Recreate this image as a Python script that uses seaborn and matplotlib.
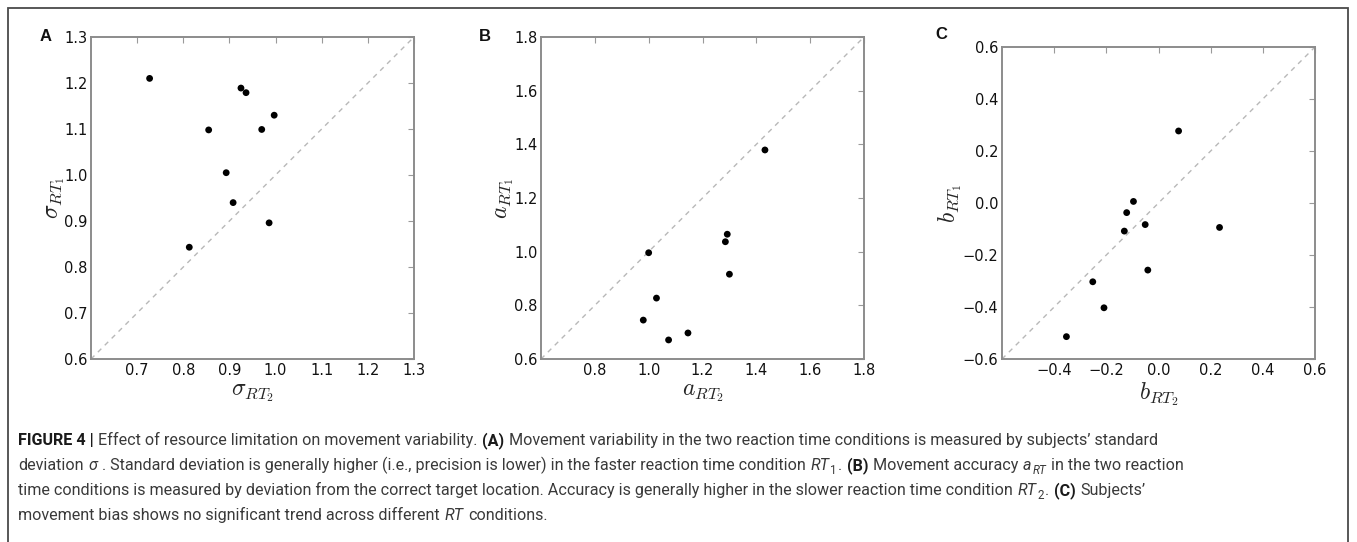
import os
import matplotlib
matplotlib.use("Agg")
import matplotlib.pyplot as plt
import seaborn as sns
import pandas as pd
from matplotlib import font_manager
from matplotlib.font_manager import FontProperties
from matplotlib.patches import Rectangle

# ---------------- data ----------------
sigma_rt2 = [0.727, 0.925, 0.936, 0.997, 0.855, 0.970, 0.893, 0.908, 0.986, 0.813]
sigma_rt1 = [1.210, 1.189, 1.179, 1.130, 1.098, 1.099, 1.005, 0.940, 0.896, 0.843]

a_rt2 = [1.432, 1.292, 1.285, 1.300, 1.000, 1.029, 0.980, 1.146, 1.074]
a_rt1 = [1.379, 1.065, 1.037, 0.916, 0.996, 0.827, 0.745, 0.697, 0.671]

b_rt2 = [0.077, -0.096, -0.122, -0.051, -0.131, 0.234, -0.041, -0.252, -0.209, -0.353]
b_rt1 = [0.277, 0.006, -0.037, -0.083, -0.108, -0.094, -0.258, -0.303, -0.403, -0.514]

lim_a = [0.6, 1.3]
xticks_a = [0.7, 0.8, 0.9, 1.0, 1.1, 1.2, 1.3]
yticks_a = [0.6, 0.7, 0.8, 0.9, 1.0, 1.1, 1.2, 1.3]
lim_b = [0.6, 1.8]
xticks_b = [0.8, 1.0, 1.2, 1.4, 1.6, 1.8]
yticks_b = [0.6, 0.8, 1.0, 1.2, 1.4, 1.6, 1.8]
lim_c = [-0.6, 0.6]
xticks_c = [-0.4, -0.2, 0.0, 0.2, 0.4, 0.6]
yticks_c = [-0.6, -0.4, -0.2, 0.0, 0.2, 0.4, 0.6]

labels = {
    "A": (r"$\sigma_{RT_2}$", r"$\sigma_{RT_1}$"),
    "B": (r"$a_{RT_2}$", r"$a_{RT_1}$"),
    "C": (r"$b_{RT_2}$", r"$b_{RT_1}$"),
}

# ---------------- style ----------------
sns.set_theme(style="white")
plt.rcParams["font.family"] = ["DejaVu Sans"]
plt.rcParams["mathtext.fontset"] = "cm"

W, H = 1357, 542
fig = plt.figure(figsize=(W / 100, H / 100), dpi=100)


def fx(px):
    return px / W


def fy(py):
    return 1 - py / H


_dv = os.path.join(matplotlib.get_data_path(), "fonts", "ttf", "DejaVuSans.ttf")
tick_fp = FontProperties(fname=_dv, size=10.5) if os.path.exists(_dv) else FontProperties(family="DejaVu Sans", size=10.5)


# ---------- caption font choice ----------
def _w(v):
    if isinstance(v, str):
        return font_manager.weight_dict.get(v, 400)
    return int(v)


def family_entries():
    tl = font_manager.fontManager.ttflist
    prefs = [
        lambda f: f.name == "Roboto" and "Condensed" not in f.fname,
        lambda f: f.name == "Liberation Sans",
    ]
    for p in prefs:
        ents = [f for f in tl if p(f)]
        if ents:
            return ents
    return []


cap_entries = family_entries()


def pick(style, weight):
    best, score = None, 1e9
    for f in cap_entries:
        s = abs(_w(f.weight) - weight) + (0 if f.style == style else 1000)
        if s < score:
            best, score = f, s
    if best is None:
        return FontProperties(family="Liberation Sans", style=style, weight=weight)
    return FontProperties(fname=best.fname)


FP = {
    "r": pick("normal", 400),
    "b": pick("normal", 700),
    "i": pick("italic", 400),
}

# outer frame
fig.add_artist(Rectangle((fx(7.5), -0.05), fx(1348 - 7.5), fy(7.5) + 0.05,
                         transform=fig.transFigure, fill=False,
                         edgecolor="#4a4a4a", lw=1.3))


def panel(left, right, top, bottom, xs, ys, lim, xt, yt, key, letter_xy, xlab_y, ylab_x):
    ax = fig.add_axes([fx(left), fy(bottom), fx(right - left), (bottom - top) / H])
    ax.plot(lim, lim, ls=(0, (3.5, 3.5)), color="#b8b8b8", lw=1.0, zorder=1)
    df = pd.DataFrame({"x": xs, "y": ys})
    sns.scatterplot(data=df, x="x", y="y", ax=ax, color="black", s=24,
                    edgecolor="none", zorder=3)
    ax.set_xlim(lim)
    ax.set_ylim(lim)
    ax.set_xticks(xt)
    ax.set_yticks(yt)
    ax.tick_params(direction="in", length=4, width=0.8, color="#9a9a9a",
                   top=True, right=True, labelsize=10.5, labelcolor="#111111")
    ax.tick_params(axis="x", pad=3)
    ax.tick_params(axis="y", pad=2.5)
    for lab in ax.get_xticklabels() + ax.get_yticklabels():
        lab.set_fontproperties(tick_fp)
    for sp in ax.spines.values():
        sp.set_color("#8c8c8c")
        sp.set_linewidth(1.4)
        sp.set_visible(True)
    xl, yl = labels[key]
    ax.set_xlabel(xl, fontsize=17)
    ax.set_ylabel(yl, fontsize=17)
    h = bottom - top
    w = right - left
    ax.xaxis.set_label_coords(0.5, (bottom - xlab_y) / h)
    ax.yaxis.set_label_coords((ylab_x - left) / w, 0.5)
    fig.text(fx(letter_xy[0]), fy(letter_xy[1]), key, fontsize=12,
             fontweight="bold", family="Liberation Sans", color="#111111",
             va="baseline", ha="left")
    return ax


panel(91, 414, 37, 359, sigma_rt2, sigma_rt1, lim_a, xticks_a, yticks_a, "A", (40, 41), 380, 67)
panel(541, 864, 37, 359, a_rt2, a_rt1, lim_b, xticks_b, yticks_b, "B", (479, 41), 380, 516)
panel(1002, 1315, 47, 359, b_rt2, b_rt1, lim_c, xticks_c, yticks_c, "C", (935, 39), 380, 964)

# ---------------- caption ----------------
cap_lines = [
    [("FIGURE 4 |", "b"), " ", ("Effect of resource limitation on movement variability.", "r"), " ",
     ("(A)", "b"), " ",
     ("Movement variability in the two reaction time conditions is measured by subjects\u2019 standard", "r")],
    [("deviation", "r"), " ", ("\u03c3", "i"), " ", (". Standard deviation is generally higher (i.e., precision is lower) in the faster reaction time condition", "r"),
     " ", ("RT", "i"), ("1", "sub"), (".", "r"), " ", ("(B)", "b"), " ", ("Movement accuracy", "r"), " ",
     ("a", "i"), ("RT", "isub"), " ", ("in the two reaction", "r")],
    [("time conditions is measured by deviation from the correct target location. Accuracy is generally higher in the slower reaction time condition", "r"),
     " ", ("RT", "i"), ("2", "sub"), (".", "r"), " ", ("(C)", "b"), " ", ("Subjects\u2019", "r")],
    [("movement bias shows no significant trend across different", "r"), " ", ("RT", "i"), " ",
     ("conditions.", "r")],
]
cap_baselines = [445, 470, 495, 520]

renderer = fig.canvas.get_renderer()


def make_text(x, y, s, style, size):
    sz = size
    yy = y
    if style in ("sub", "isub"):
        sz = size * 0.72
        yy = y + size * 100 / 72 * 0.22
    key = {"sub": "r", "isub": "i"}.get(style, style)
    color = "#1a1a1a" if key == "b" else "#3a3a3a"
    return fig.text(fx(x), fy(yy), s, fontproperties=FP[key], fontsize=sz,
                    va="baseline", ha="left", color=color)


def space_width(size):
    t1 = make_text(0, 0, "a a", "r", size)
    t2 = make_text(0, 0, "aa", "r", size)
    w = t1.get_window_extent(renderer).width - t2.get_window_extent(renderer).width
    t1.remove()
    t2.remove()
    return w


def draw_line(runs, x0, y, size, keep=True):
    sp = space_width(size)
    x = x0
    made = []
    for item in runs:
        if item == " ":
            x += sp
            continue
        s, st = item
        t = make_text(x, y, s, st, size)
        bb = t.get_window_extent(renderer)
        x = bb.x1 + (1 if st in ("i", "sub", "isub") else 0.6)
        made.append(t)
    if not keep:
        for t in made:
            t.remove()
    return x - x0


target = 1152 - 18
base = 12.0
wid = draw_line(cap_lines[0], 18, cap_baselines[0], base, keep=False)
size = min(base * target / wid, 12.5)
for runs, yb in zip(cap_lines, cap_baselines):
    draw_line(runs, 18, yb, size)

fig.savefig("out.png", dpi=100)
